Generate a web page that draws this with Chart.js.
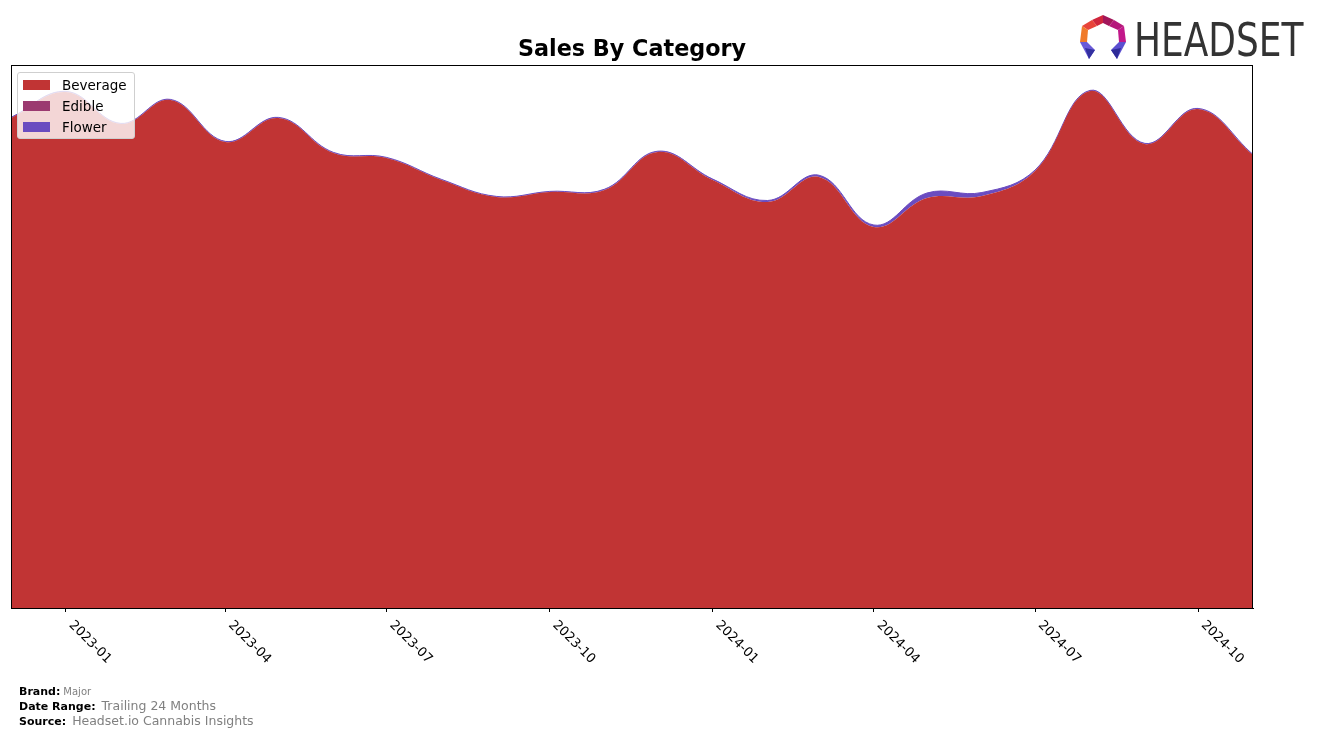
<!DOCTYPE html>
<html>
<head>
<meta charset="utf-8">
<script src="https://cdn.jsdelivr.net/npm/chart.js@4.4.1/dist/chart.umd.min.js"></script>
<style>
  html, body { margin: 0; padding: 0; background: #fff; }
  #wrap { position: relative; width: 1317px; height: 738px; font-family: "DejaVu Sans", sans-serif; }
  #chart { position: absolute; left: 0; top: 0; }
  #title { position: absolute; left: 11px; width: 1242px; top: 35px; text-align: center;
           font-weight: bold; font-size: 22.3px; color: #000; }
  #legend { position: absolute; left: 17px; top: 72px; width: 116px; height: 65px;
            background: rgba(255,255,255,0.8); border: 1px solid #cfcfcf; border-radius: 3px; }
  .lg-row { position: absolute; left: 0; height: 16px; font-size: 13.5px; line-height: 16px; color: #000; }
  .lg-sw { position: absolute; left: 5px; top: 3px; width: 27px; height: 10px; }
  .lg-tx { position: absolute; left: 44px; top: 0; white-space: nowrap; }
  .foot { position: absolute; left: 19px; white-space: nowrap; color: #000; }
  .foot b { font-size: 11px; }
  .foot span { color: #808080; }
  #logo-text { position: absolute; left: 1134px; top: 12px; font-family: "Liberation Sans Narrow", "DejaVu Sans Condensed", sans-serif;
               font-size: 47px; color: #333; transform-origin: left top; }
</style>
</head>
<body>
<div id="wrap">
  <canvas id="chart" width="1317" height="738"></canvas>
  <div id="title">Sales By Category</div>
  <div id="legend"></div>
  <div class="foot" style="top:680px;"><b>Brand:</b><span style="font-size:10px;margin-left:3px;">Major</span></div>
  <div class="foot" style="top:695px;"><b>Date Range:</b><span style="font-size:12.5px;margin-left:6px;">Trailing 24 Months</span></div>
  <div class="foot" style="top:710px;"><b>Source:</b><span style="font-size:12.5px;margin-left:6px;">Headset.io Cannabis Insights</span></div>
  <svg style="position:absolute;left:1079px;top:14px;" width="48" height="48" viewBox="0 0 48 48">
    <polygon points="24,1 13,6 18,12 24,9" fill="#d0263c"/>
    <polygon points="24,1 35,6 30,12 24,9" fill="#a3165a"/>
    <polygon points="13,6 3,12 9,16 18,12" fill="#e8443a"/>
    <polygon points="35,6 45,12 39,16 30,12" fill="#b5177a"/>
    <polygon points="3,12 1,28 8,28 9,16" fill="#f07a2a"/>
    <polygon points="45,12 47,28 40,28 39,16" fill="#c2188a"/>
    <polygon points="1,28 8,28 16,36 10,45" fill="#6a5ad8"/>
    <polygon points="47,28 40,28 32,36 38,45" fill="#5b4fd0"/>
    <polygon points="6,34 16,36 10,45" fill="#3330a0"/>
    <polygon points="42,34 32,36 38,45" fill="#2e2b98"/>
  </svg>
  <div id="logo-text">HEADSET</div>
</div>
<script>
// months (first of month), one value per month
const MONTHS = [
  "2022-12","2023-01","2023-02","2023-03","2023-04","2023-05","2023-06","2023-07",
  "2023-08","2023-09","2023-10","2023-11","2023-12","2024-01","2024-02","2024-03",
  "2024-04","2024-05","2024-06","2024-07","2024-08","2024-09","2024-10","2024-11"
]
const BEVERAGE = [
  490, 516, 484, 508, 466, 490, 455, 450,
  428, 411, 416, 418, 456, 428, 406, 431,
  381, 410, 412, 437, 517, 464, 499, 453
]
const EDIBLE = [
  0, 0, 0, 0, 0, 0, 0, 0,
  0, 0, 0, 0, 0, 0, 0, 0,
  0, 0, 0, 0, 0, 0, 0, 0
]
const FLOWER = [
  0.6, 0.6, 0.6, 0.6, 0.6, 0.6, 0.6, 0.6,
  0.6, 0.6, 0.6, 0.8, 0.8, 1, 1.5, 1.8,
  2, 5, 3.5, 1, 0.6, 0.6, 0.6, 0.6
]
const TICK_LABELS = ["2023-01","2023-04","2023-07","2023-10","2024-01","2024-04","2024-07","2024-10"]

const SERIES = [
  { name: "Beverage", values: BEVERAGE, color: "#c13434" },
  { name: "Edible",   values: EDIBLE,   color: "#9b3a70" },
  { name: "Flower",   values: FLOWER,   color: "#6a4cc0" }
]

const START = Date.UTC(2022, 11, 1)
function dayOf(m) {
  const [y, mo] = m.split("-").map(Number)
  return (Date.UTC(y, mo - 1, 1) - START) / 864e5
}

// legend (html, drawn inside the plot like the original)
const legend = document.getElementById("legend")
SERIES.forEach((s, i) => {
  const row = document.createElement("div")
  row.className = "lg-row"
  row.style.top = (4 + i * 21) + "px"
  row.innerHTML = `<div class="lg-sw" style="background:${s.color}"></div><div class="lg-tx">${s.name}</div>`
  legend.appendChild(row)
})

// squeeze logo text to width
const lt = document.getElementById("logo-text")
lt.style.transform = "scaleX(" + (169 / lt.offsetWidth) + ")"

// border + rotated tick labels
const framePlugin = {
  id: "frame",
  afterDraw(chart) {
    const { ctx, chartArea: a } = chart
    const x = chart.scales.x
    ctx.save()
    ctx.strokeStyle = "#000"
    ctx.lineWidth = 1
    ctx.strokeRect(a.left + 0.5, a.top + 0.5, a.right - a.left - 1, a.bottom - a.top)
    ctx.fillStyle = "#000"
    ctx.font = "13px 'DejaVu Sans'"
    ctx.textAlign = "left"
    ctx.textBaseline = "middle"
    TICK_LABELS.forEach(l => {
      const px = x.getPixelForValue(dayOf(l))
      ctx.save()
      ctx.translate(px + 5, a.bottom + 15)
      ctx.rotate(Math.PI / 4)
      ctx.fillText(l, 0, 0)
      ctx.restore()
    })
    ctx.restore()
  }
}

new Chart(document.getElementById("chart"), {
  type: "line",
  data: {
    datasets: SERIES.map((s, i) => ({
      label: s.name,
      data: MONTHS.map((m, j) => ({ x: dayOf(m), y: s.values[j] })),
      backgroundColor: s.color,
      borderColor: s.color,
      borderWidth: i === 2 ? 1 : 0,
      fill: i === 0 ? "origin" : "-1",
      tension: 0.4,
      pointRadius: 0
    }))
  },
  options: {
    responsive: false,
    animation: false,
    layout: { padding: { left: 11, right: 64, top: 65, bottom: 0 } },
    plugins: { legend: { display: false }, tooltip: { enabled: false } },
    scales: {
      x: {
        type: "linear",
        min: 0,
        max: dayOf("2024-11"),
        afterBuildTicks: s => { s.ticks = TICK_LABELS.map(l => ({ value: dayOf(l) })) },
        afterFit: s => { s.height = 130 },
        grid: { drawOnChartArea: false, drawTicks: true, tickLength: 4, color: "#000" },
        border: { display: true, color: "#000" },
        ticks: { display: false }
      },
      y: {
        stacked: true,
        min: 0,
        max: 543,
        display: false
      }
    }
  },
  plugins: [framePlugin]
})
</script>
</body>
</html>
